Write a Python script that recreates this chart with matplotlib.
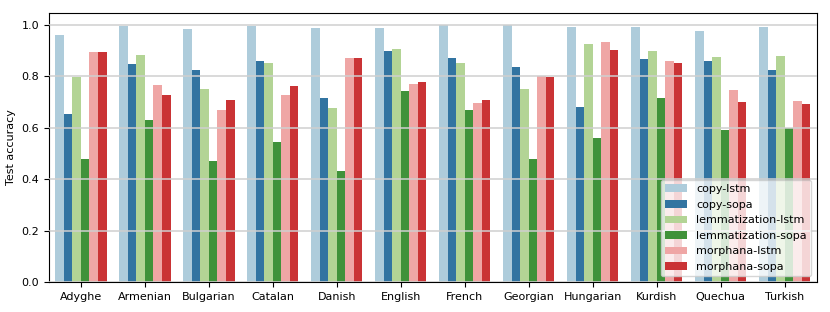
import matplotlib
matplotlib.use("Agg")
import matplotlib.pyplot as plt
import seaborn as sns
import pandas as pd

languages = ["Adyghe", "Armenian", "Bulgarian", "Catalan", "Danish", "English",
             "French", "Georgian", "Hungarian", "Kurdish", "Quechua", "Turkish"]
models = ["copy-lstm", "copy-sopa", "lemmatization-lstm", "lemmatization-sopa",
          "morphana-lstm", "morphana-sopa"]

copy_lstm = [0.961, 0.997, 0.984, 0.996, 0.990, 0.990, 0.999, 0.999, 0.994, 0.992, 0.977, 0.992]
copy_sopa = [0.655, 0.847, 0.827, 0.859, 0.717, 0.899, 0.870, 0.837, 0.680, 0.866, 0.862, 0.825]
lemmatization_lstm = [0.798, 0.882, 0.751, 0.852, 0.676, 0.905, 0.852, 0.750, 0.926, 0.899, 0.875, 0.881]
lemmatization_sopa = [0.477, 0.630, 0.471, 0.543, 0.431, 0.742, 0.671, 0.480, 0.559, 0.715, 0.593, 0.601]
morphana_lstm = [0.896, 0.768, 0.668, 0.726, 0.870, 0.772, 0.695, 0.800, 0.933, 0.859, 0.746, 0.704]
morphana_sopa = [0.896, 0.726, 0.708, 0.763, 0.873, 0.777, 0.709, 0.798, 0.901, 0.852, 0.702, 0.693]

series = [copy_lstm, copy_sopa, lemmatization_lstm, lemmatization_sopa, morphana_lstm, morphana_sopa]
rows = []
for m, vals in zip(models, series):
    for lang, v in zip(languages, vals):
        rows.append({"language": lang, "model": m, "accuracy": v})
df = pd.DataFrame(rows)

FS = 8
plt.rcParams["font.family"] = ["DejaVu Sans"]
plt.rcParams["font.size"] = FS

fig = plt.figure(figsize=(8.3, 3.12), dpi=100)
ax = fig.add_axes([0.059, 0.0962, 0.925, 0.863])
sns.barplot(data=df, x="language", y="accuracy", hue="model", order=languages,
            hue_order=models, palette="Paired", ax=ax)
ax.set_xlabel("")
ax.set_ylabel("Test accuracy", fontsize=FS)
ax.tick_params(labelsize=FS)
ax.set_xlim(-0.5, len(languages) - 0.5)
ax.set_ylim(0, 1.048)
ax.grid(axis="y", color="#cfcfcf", linewidth=1.1)
ax.set_axisbelow(False)
ax.legend(loc="lower right", fontsize=FS, title=None, handlelength=2.0)
fig.savefig("out.png", dpi=100)
